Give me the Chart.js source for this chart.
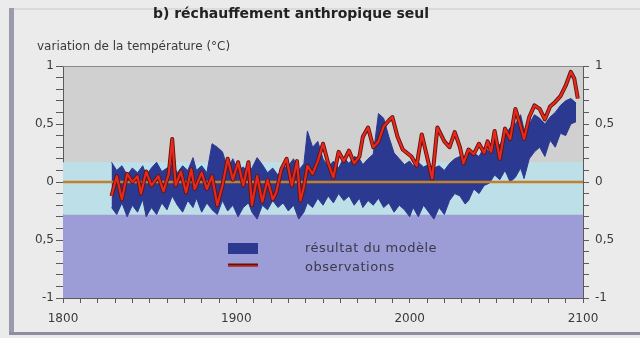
<!DOCTYPE html>
<html>
<head>
<meta charset="utf-8">
<script src="https://cdn.jsdelivr.net/npm/chart.js@4.4.1/dist/chart.umd.min.js"></script>
<style>
    html, body { margin: 0; padding: 0; background: #ebebeb; }
    #wrap { width: 640px; height: 338px; }
</style>
</head>
<body>
<div id="wrap"><canvas id="chart" width="640" height="338"></canvas></div>
<script>
// --- data ---
const xRange = [1800, 2100];
const xTickLabels = ['1800', '1900', '2000', '2100'];
const yTickLabels = ['-1', '0,5', '0', '0,5', '1'];   // minus sign missing on -0,5 in the original

// shaded backgrounds: light cyan band and lavender band
const cyanTop = 0.17;
const cyanBottom = -0.28;
const yMin = -1;

// model result (blue envelope)
const modelYears = [1828, 1831, 1834, 1837, 1840, 1843, 1846, 1848, 1851, 1854, 1857, 1860, 1863, 1866, 1869, 1872,
    1875, 1877, 1880, 1883, 1886, 1889, 1892, 1895, 1898, 1901, 1904, 1907, 1909, 1912, 1915, 1918, 1921, 1924,
    1927, 1930, 1933, 1936, 1939, 1941, 1944, 1947, 1950, 1953, 1956, 1959, 1962, 1965, 1968, 1971, 1973, 1976,
    1979, 1982, 1985, 1988, 1991, 1994, 1997, 2000, 2002, 2005, 2008, 2011, 2014, 2017, 2020, 2023, 2026, 2029,
    2032, 2034, 2037, 2040, 2043, 2046, 2049, 2052, 2055, 2058, 2061, 2064, 2066, 2069, 2072, 2075, 2078, 2081,
    2084, 2087, 2090, 2093, 2096];
const modelHigh = [0.17, 0.10, 0.14, 0.06, 0.12, 0.08, 0.14, 0.06, 0.12, 0.17, 0.09, 0.12, 0.15, 0.08, 0.14, 0.10,
    0.21, 0.10, 0.14, 0.08, 0.33, 0.30, 0.26, 0.12, 0.20, 0.10, 0.13, 0.08, 0.12, 0.21, 0.15, 0.08, 0.12, 0.06,
    0.12, 0.14, 0.20, 0.10, 0.16, 0.44, 0.30, 0.35, 0.20, 0.13, 0.18, 0.12, 0.21, 0.16, 0.22, 0.20, 0.15, 0.20,
    0.24, 0.59, 0.55, 0.39, 0.25, 0.20, 0.15, 0.18, 0.14, 0.17, 0.13, 0.15, 0.12, 0.14, 0.10, 0.16, 0.20, 0.22,
    0.18, 0.27, 0.25, 0.22, 0.30, 0.26, 0.35, 0.32, 0.40, 0.47, 0.50, 0.58, 0.45, 0.50, 0.58, 0.55, 0.50, 0.56,
    0.60, 0.66, 0.70, 0.72, 0.68];
const modelLow = [-0.22, -0.28, -0.18, -0.30, -0.20, -0.26, -0.15, -0.30, -0.22, -0.28, -0.18, -0.24, -0.12, -0.20,
    -0.26, -0.16, -0.22, -0.14, -0.26, -0.18, -0.24, -0.28, -0.16, -0.25, -0.20, -0.30, -0.22, -0.18, -0.26, -0.32,
    -0.20, -0.24, -0.16, -0.22, -0.18, -0.25, -0.20, -0.32, -0.26, -0.18, -0.22, -0.14, -0.20, -0.12, -0.18, -0.10,
    -0.16, -0.12, -0.20, -0.14, -0.22, -0.16, -0.20, -0.14, -0.22, -0.18, -0.26, -0.20, -0.24, -0.30, -0.22, -0.30,
    -0.20, -0.26, -0.32, -0.22, -0.28, -0.16, -0.10, -0.12, -0.19, -0.16, -0.06, -0.10, -0.03, -0.01, 0.06, 0.02,
    0.10, 0.00, 0.04, 0.12, 0.03, 0.20, 0.26, 0.30, 0.22, 0.36, 0.30, 0.42, 0.40, 0.50, 0.52];

// observations (red line)
const obsYears = [1828, 1831, 1834, 1837, 1840, 1843, 1845, 1848, 1851, 1855, 1858, 1861, 1863, 1865, 1868, 1871,
    1874, 1876, 1880, 1883, 1886, 1889, 1892, 1895, 1898, 1901, 1904, 1907, 1909, 1912, 1915, 1918, 1921, 1923,
    1926, 1929, 1932, 1935, 1937, 1939, 1941, 1944, 1947, 1950, 1953, 1956, 1959, 1962, 1965, 1968, 1971, 1973,
    1976, 1979, 1982, 1985, 1988, 1990, 1993, 1996, 2001, 2004, 2007, 2013, 2016, 2020, 2023, 2026, 2029, 2031,
    2034, 2037, 2040, 2043, 2045, 2047, 2049, 2052, 2055, 2058, 2061, 2064, 2066, 2069, 2072, 2075, 2078, 2081,
    2084, 2087, 2090, 2093, 2095, 2097];
const obsTemp = [-0.12, 0.05, -0.15, 0.07, 0.00, 0.05, -0.10, 0.09, -0.03, 0.05, -0.08, 0.07, 0.37, -0.03, 0.09,
    -0.09, 0.11, -0.06, 0.08, -0.06, 0.05, -0.20, -0.03, 0.20, 0.02, 0.17, -0.03, 0.17, -0.20, 0.05, -0.17, 0.02,
    -0.15, -0.09, 0.11, 0.20, -0.03, 0.18, -0.16, -0.04, 0.14, 0.07, 0.18, 0.33, 0.16, 0.04, 0.26, 0.18, 0.27,
    0.16, 0.22, 0.39, 0.47, 0.30, 0.35, 0.48, 0.53, 0.56, 0.39, 0.28, 0.22, 0.14, 0.41, 0.03, 0.47, 0.35, 0.30,
    0.43, 0.30, 0.16, 0.28, 0.24, 0.33, 0.25, 0.35, 0.26, 0.44, 0.20, 0.46, 0.37, 0.63, 0.48, 0.37, 0.56, 0.66,
    0.63, 0.54, 0.65, 0.69, 0.74, 0.83, 0.95, 0.89, 0.72];

const titleText = 'b) réchauffement anthropique seul';
const axisTitleText = 'variation de la température (°C)';
const legendLabels = ['résultat du modèle', 'observations'];

// --- colours ---
const COL_PAGE = '#ebebeb';
const COL_PLOT = '#d0d0d0';
const COL_CYAN = '#bde0e8';
const COL_LAVENDER = '#9c9cd6';
const COL_MODEL = '#2c3991';
const COL_OBS = '#e8281a';
const COL_OBS_EDGE = '#5e1410';
const COL_ZERO = '#c2802c';
const COL_AXIS = '#5a5a5a';
const COL_TEXT = '#3a3a3a';
const FONT = '"DejaVu Sans", "Liberation Sans", sans-serif';

const xy = (xs, ys) => xs.map((x, i) => ({ x: x, y: ys[i] }));
const flat = v => [{ x: xRange[0], y: v }, { x: xRange[1], y: v }];

function yLabel(value) {
    const r = Math.round(value * 10);
    const idx = [-10, -5, 0, 5, 10].indexOf(r);
    return idx >= 0 ? yTickLabels[idx] : '';
}

const decorPlugin = {
    id: 'decor',
    beforeDraw(chart) {
        const ctx = chart.ctx;
        const a = chart.chartArea;
        ctx.save();
        ctx.fillStyle = COL_PAGE;
        ctx.fillRect(0, 0, chart.width, chart.height);
        // frame of the scanned figure
        ctx.fillStyle = '#9a9aae';
        ctx.fillRect(9, 8, 5, 326);
        ctx.fillStyle = '#8e8e9c';
        ctx.fillRect(9, 332, 631, 3);
        ctx.fillStyle = '#dadada';
        ctx.fillRect(14, 8, 626, 2);
        // plot background
        ctx.fillStyle = COL_PLOT;
        ctx.fillRect(a.left, a.top, a.right - a.left, a.bottom - a.top);
        ctx.restore();
    },
    afterDraw(chart) {
        const ctx = chart.ctx;
        const a = chart.chartArea;
        ctx.save();
        // top border of the plot
        ctx.strokeStyle = '#8a8a8a';
        ctx.lineWidth = 1;
        ctx.beginPath();
        ctx.moveTo(a.left, a.top + 0.5);
        ctx.lineTo(a.right, a.top + 0.5);
        ctx.stroke();

        ctx.fillStyle = '#222';
        ctx.textBaseline = 'middle';
        ctx.textAlign = 'center';
        ctx.font = 'bold 14px ' + FONT;
        ctx.fillText(titleText, 291, 14);
        ctx.textAlign = 'left';
        ctx.font = '12px ' + FONT;
        ctx.fillStyle = COL_TEXT;
        ctx.fillText(axisTitleText, 37, 47);

        // legend
        ctx.fillStyle = COL_MODEL;
        ctx.fillRect(228, 243, 30, 11);
        ctx.strokeStyle = COL_OBS_EDGE;
        ctx.lineWidth = 3;
        ctx.beginPath();
        ctx.moveTo(228, 265);
        ctx.lineTo(258, 265);
        ctx.stroke();
        ctx.strokeStyle = COL_OBS;
        ctx.lineWidth = 1.2;
        ctx.beginPath();
        ctx.moveTo(228, 266);
        ctx.lineTo(258, 266);
        ctx.stroke();
        ctx.fillStyle = '#3a3a4c';
        ctx.font = '13px ' + FONT;
        ctx.letterSpacing = '0.5px';
        ctx.fillText(legendLabels[0], 305, 249);
        ctx.fillText(legendLabels[1], 305, 268);
        ctx.restore();
    }
};

const tickFont = { family: FONT, size: 12 };

new Chart(document.getElementById('chart'), {
    type: 'line',
    data: {
        datasets: [
            {   // red observations
                data: xy(obsYears, obsTemp),
                borderColor: COL_OBS, borderWidth: 2.2, borderJoinStyle: 'round',
                pointRadius: 0, fill: false, order: 0
            },
            {   // dark edge under the red line
                data: xy(obsYears, obsTemp),
                borderColor: COL_OBS_EDGE, borderWidth: 4, borderJoinStyle: 'round',
                pointRadius: 0, fill: false, order: 1
            },
            {   // zero line
                data: flat(0),
                borderColor: COL_ZERO, borderWidth: 2.5,
                pointRadius: 0, fill: false, order: 2
            },
            {   // model envelope, upper edge
                data: xy(modelYears, modelHigh),
                borderWidth: 1, borderColor: COL_MODEL, backgroundColor: COL_MODEL,
                pointRadius: 0, fill: '+1', order: 3
            },
            {   // model envelope, lower edge
                data: xy(modelYears, modelLow),
                borderWidth: 1, borderColor: COL_MODEL,
                pointRadius: 0, fill: false, order: 4
            },
            {   // light cyan band
                data: flat(cyanTop),
                borderWidth: 0, backgroundColor: COL_CYAN,
                pointRadius: 0, fill: { value: cyanBottom }, order: 5
            },
            {   // lavender band
                data: flat(cyanBottom),
                borderWidth: 0, backgroundColor: COL_LAVENDER,
                pointRadius: 0, fill: { value: yMin }, order: 6
            }
        ]
    },
    options: {
        responsive: false,
        animation: false,
        devicePixelRatio: 1,
        layout: { padding: { left: 10, right: 10, top: 66, bottom: 0 } },
        plugins: {
            legend: { display: false },
            tooltip: { enabled: false },
            title: { display: false }
        },
        scales: {
            x: {
                type: 'linear', min: xRange[0], max: xRange[1],
                afterFit: s => { s.height = 40; },
                border: { color: COL_AXIS, width: 1 },
                grid: { drawOnChartArea: false, tickLength: 5, color: COL_AXIS },
                ticks: {
                    stepSize: 10, autoSkip: false, maxRotation: 0, padding: 9,
                    color: COL_TEXT, font: tickFont,
                    callback: v => {
                        const i = Math.round((v - xRange[0]) / 100);
                        return (v - xRange[0]) % 100 === 0 ? xTickLabels[i] : '';
                    }
                }
            },
            y: {
                position: 'left', min: -1, max: 1,
                afterFit: s => { s.width = 53; },
                border: { color: COL_AXIS, width: 1 },
                grid: { drawOnChartArea: false, tickLength: 7, color: COL_AXIS },
                ticks: { stepSize: 0.1, autoSkip: false, padding: 2, color: COL_TEXT, font: tickFont, callback: yLabel }
            },
            y2: {
                position: 'right', min: -1, max: 1,
                afterFit: s => { s.width = 47; },
                border: { color: COL_AXIS, width: 1 },
                grid: { drawOnChartArea: false, tickLength: 6, color: COL_AXIS },
                ticks: { stepSize: 0.1, autoSkip: false, padding: 6, color: COL_TEXT, font: tickFont, callback: yLabel }
            }
        }
    },
    plugins: [decorPlugin]
});
</script>
</body>
</html>
